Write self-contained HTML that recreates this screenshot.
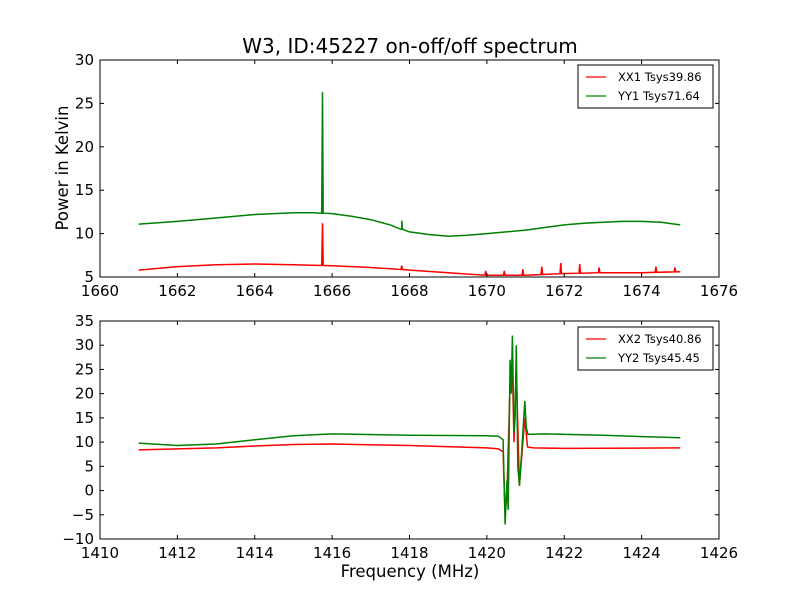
<!DOCTYPE html>
<html><head><meta charset="utf-8"><style>
body{margin:0;background:#fff}
svg{display:block;font-family:"DejaVu Sans","Liberation Sans",sans-serif}
</style></head><body>
<svg id="chart" width="800" height="600" viewBox="0 0 800 600">
<rect width="800" height="600" fill="#fff"/>
<text x="410" y="53" font-size="20" text-anchor="middle">W3, ID:45227 on-off/off spectrum</text>
<text x="68" y="168" font-size="16.5" text-anchor="middle" transform="rotate(-90 68 168)">Power in Kelvin</text>
<text x="410" y="577" font-size="16.5" text-anchor="middle">Frequency (MHz)</text>
<g id="top"></g><g id="bot"></g>
</svg>
<script>
// Top panel data
const xx1X=[1661,1662,1663,1664,1665,1666,1667,1668,1669,1670,1671,1672,1673,1674,1675];
const xx1Y=[5.8,6.2,6.4,6.5,6.4,6.3,6.1,5.8,5.5,5.2,5.2,5.4,5.5,5.5,5.6];
const xx1SpikeX=[1665.75,1667.8,1669.97,1670.45,1670.93,1671.42,1671.91,1672.4,1672.9,1674.37,1674.86];
const xx1SpikeY=[11.2,6.3,5.7,5.7,5.9,6.2,6.6,6.5,6.1,6.2,6.1];
const yy1X=[1661,1662,1663,1664,1665,1665.5,1666,1666.5,1667,1667.5,1667.8,1668,1668.5,1669,1669.5,1670,1670.5,1671,1671.5,1672,1672.5,1673,1673.5,1674,1674.5,1675];
const yy1Y=[11.1,11.4,11.8,12.2,12.4,12.4,12.3,12.0,11.6,11.0,10.5,10.2,9.9,9.7,9.8,10.0,10.2,10.4,10.7,11.0,11.2,11.3,11.4,11.4,11.3,11.0];
const yy1SpikeX=[1665.75,1667.8];
const yy1SpikeY=[26.3,11.5];
const topXTicks=[1660,1662,1664,1666,1668,1670,1672,1674,1676];
const topYTicks=[5,10,15,20,25,30];
// Bottom panel data
const xx2X=[1411,1412,1413,1414,1415,1416,1418,1420,1420.3,1420.42,1420.47,1420.52,1420.6,1420.66,1420.7,1420.76,1420.84,1420.98,1421.05,1421.2,1422,1425];
const xx2Y=[8.4,8.6,8.8,9.2,9.5,9.6,9.3,8.8,8.6,8.0,-5,0,22,25,10,25,1,15,9,8.8,8.7,8.8];
const yy2X=[1411,1412,1413,1414,1415,1416,1418,1420,1420.3,1420.42,1420.47,1420.52,1420.55,1420.6,1420.63,1420.66,1420.7,1420.73,1420.76,1420.8,1420.84,1420.9,1420.98,1421.02,1421.06,1421.5,1423,1425];
const yy2Y=[9.8,9.3,9.6,10.5,11.3,11.7,11.4,11.3,11.2,10.5,-7,2,-4,27,20,32,12,15,30,5,1,8,18.5,13,11.6,11.7,11.4,10.9];
const botXTicks=[1410,1412,1414,1416,1418,1420,1422,1424,1426];
const botYTicks=[-10,-5,0,5,10,15,20,25,30,35];

const NS="http://www.w3.org/2000/svg";
function mk(tag,attrs,parent){const e=document.createElementNS(NS,tag);for(const k in attrs)e.setAttribute(k,attrs[k]);parent.appendChild(e);return e;}
function panel(g,box,xmin,xmax,ymin,ymax,xt,yt,series,legend){
  const sx=v=>box.x+(v-xmin)/(xmax-xmin)*box.w;
  const sy=v=>box.y+box.h-(v-ymin)/(ymax-ymin)*box.h;
  series.forEach(s=>{
    let pts=s.x.map((x,i)=>[x,s.y[i]]);
    if(s.sx){s.sx.forEach((x,i)=>{
      let base=null;for(let j=0;j<s.x.length-1;j++){if(x>=s.x[j]&&x<=s.x[j+1]){const t=(x-s.x[j])/(s.x[j+1]-s.x[j]);base=s.y[j]+t*(s.y[j+1]-s.y[j]);}}
      pts.push([x-0.02,base],[x,s.sy[i]],[x+0.02,base]);});}
    pts.sort((a,b)=>a[0]-b[0]);
    const p=mk('polyline',{points:pts.map(p=>sx(p[0]).toFixed(1)+','+sy(p[1]).toFixed(1)).join(' '),fill:'none',stroke:s.c,'stroke-width':1.5},g);
    
    
  });
  const fr=mk('rect',{x:box.x,y:box.y,width:box.w,height:box.h,fill:'none',stroke:'#000','stroke-width':1},g);
  
  
  xt.forEach(v=>{const x=sx(v);
    mk('line',{x1:x,x2:x,y1:box.y+box.h,y2:box.y+box.h-4,stroke:'#000'},g);
    mk('line',{x1:x,x2:x,y1:box.y,y2:box.y+4,stroke:'#000'},g);
    const t=mk('text',{x:x,y:box.y+box.h+19,'font-size':15,'text-anchor':'middle'},g);t.textContent=v;
    
    });
  yt.forEach(v=>{const y=sy(v);
    mk('line',{x1:box.x,x2:box.x+4,y1:y,y2:y,stroke:'#000'},g);
    mk('line',{x1:box.x+box.w,x2:box.x+box.w-4,y1:y,y2:y,stroke:'#000'},g);
    const t=mk('text',{x:box.x-6,y:y+5,'font-size':15,'text-anchor':'end'},g);t.textContent=(v<0?'\u2212'+(-v):v);
    
    });
  const lg=mk('g',{},g);
  
  
  mk('rect',{x:legend.x,y:legend.y,width:135,height:43,fill:'#fff',stroke:'#000'},lg);
  legend.items.forEach((it,i)=>{const y=legend.y+12+i*19;
    mk('line',{x1:legend.x+8,x2:legend.x+28,y1:y,y2:y,stroke:it.c,'stroke-width':1.2},lg);
    const t=mk('text',{x:legend.x+40,y:y+4,'font-size':11.5},lg);t.textContent=it.t;
    
    });
}
panel(document.getElementById('top'),{x:100,y:60,w:619,h:217},1660,1676,5,30,topXTicks,topYTicks,
  [{x:xx1X,y:xx1Y,sx:xx1SpikeX,sy:xx1SpikeY,c:'#ff0000',name:'xx1-line'},{x:yy1X,y:yy1Y,sx:yy1SpikeX,sy:yy1SpikeY,c:'#008000',name:'yy1-line'}],
  {x:578,y:65,items:[{c:'#ff0000',t:'XX1 Tsys39.86'},{c:'#008000',t:'YY1 Tsys71.64'}]});
panel(document.getElementById('bot'),{x:100,y:321,w:619,h:218},1410,1426,-10,35,botXTicks,botYTicks,
  [{x:xx2X,y:xx2Y,c:'#ff0000',name:'xx2-line'},{x:yy2X,y:yy2Y,c:'#008000',name:'yy2-line'}],
  {x:578,y:327,items:[{c:'#ff0000',t:'XX2 Tsys40.86'},{c:'#008000',t:'YY2 Tsys45.45'}]});
</script>
</body></html>
